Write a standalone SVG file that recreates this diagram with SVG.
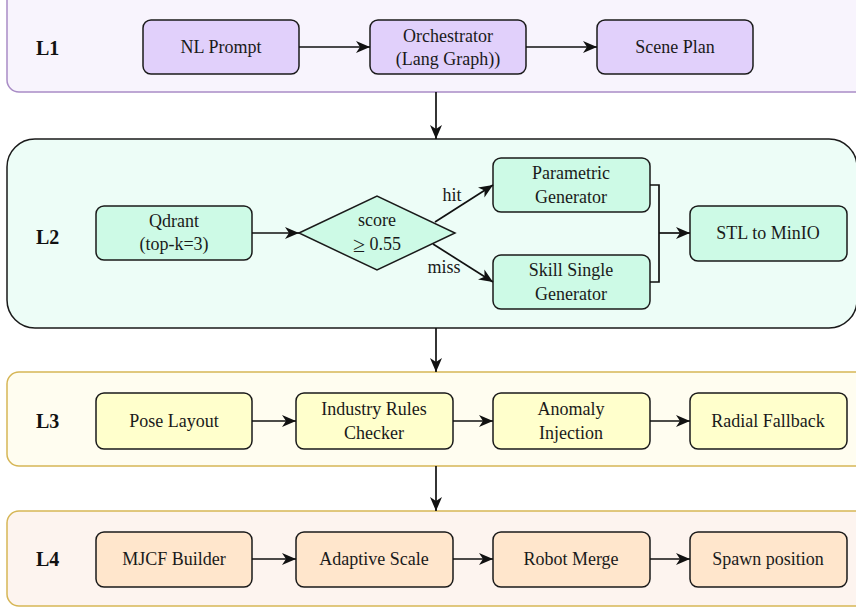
<svg xmlns="http://www.w3.org/2000/svg" width="856" height="608" viewBox="0 0 856 608">
  <defs>
    <marker id="arrow" markerUnits="userSpaceOnUse" markerWidth="16" markerHeight="14" refX="14" refY="7" orient="auto">
      <path d="M0,1 L14,7 L0,13 L4,7 z" fill="#111"/>
    </marker>
    <style>
      .lane-l1 { fill: #f8f4fd; stroke: #a98cc6; stroke-width: 1.5; }
      .lane-l2 { fill: #edfdf7; stroke: #1a1a1a; stroke-width: 1.5; }
      .lane-l3 { fill: #fffdf0; stroke: #d6b656; stroke-width: 1.5; }
      .lane-l4 { fill: #fdf4ef; stroke: #d6b656; stroke-width: 1.5; }
      .box { stroke: #1a1a1a; stroke-width: 1.5; }
      .p { fill: #e1d0fb; }
      .g { fill: #cdfae6; }
      .y { fill: #ffffcc; }
      .o { fill: #ffe6cc; }
      .lbl { font-family: "Liberation Serif", "Times New Roman", serif; font-size: 18px; fill: #1a1a1a; text-anchor: middle; dominant-baseline: central; }
      .lane-title { font-family: "Liberation Serif", "Times New Roman", serif; font-size: 20px; font-weight: bold; fill: #111; dominant-baseline: central; }
      .edge { fill: none; stroke: #111; stroke-width: 1.7; }
    </style>
  </defs>

  <!-- swimlanes -->
  <g id="lanes">
    <rect class="lane-l1" x="7" y="-12" width="870" height="104" rx="12"/>
    <rect class="lane-l2" x="7" y="139" width="850" height="189" rx="28"/>
    <rect class="lane-l3" x="7" y="372" width="870" height="94" rx="12"/>
    <rect class="lane-l4" x="7" y="511" width="870" height="95" rx="12"/>
    <text class="lane-title" x="36" y="48">L1</text>
    <text class="lane-title" x="36" y="237">L2</text>
    <text class="lane-title" x="36" y="421">L3</text>
    <text class="lane-title" x="36" y="559">L4</text>
  </g>

  <!-- L1 nodes -->
  <g id="nl-prompt">
    <rect class="box p" x="143" y="20" width="156" height="54" rx="8"/>
    <text class="lbl" x="221" y="47">NL Prompt</text>
  </g>
  <g id="orchestrator">
    <rect class="box p" x="370" y="20" width="156" height="54" rx="8"/>
    <text class="lbl" x="448" y="36">Orchestrator</text>
    <text class="lbl" x="448" y="59">(Lang Graph))</text>
  </g>
  <g id="scene-plan">
    <rect class="box p" x="597" y="20" width="156" height="54" rx="8"/>
    <text class="lbl" x="675" y="47">Scene Plan</text>
  </g>

  <!-- L2 nodes -->
  <g id="qdrant">
    <rect class="box g" x="96" y="206" width="156" height="54" rx="8"/>
    <text class="lbl" x="174" y="221">Qdrant</text>
    <text class="lbl" x="174" y="244">(top-k=3)</text>
  </g>
  <g id="score-check">
    <polygon class="box g" points="299,233 377,196 455,233 377,270"/>
    <text class="lbl" x="377" y="220">score</text>
    <text class="lbl" x="377" y="244"><tspan font-size="22">≥</tspan> 0.55</text>
  </g>
  <g id="parametric-generator">
    <rect class="box g" x="493" y="158" width="157" height="54" rx="8"/>
    <text class="lbl" x="571" y="173">Parametric</text>
    <text class="lbl" x="571" y="197">Generator</text>
  </g>
  <g id="skill-single-generator">
    <rect class="box g" x="493" y="255" width="157" height="54" rx="8"/>
    <text class="lbl" x="571" y="270">Skill Single</text>
    <text class="lbl" x="571" y="294">Generator</text>
  </g>
  <g id="stl-to-minio">
    <rect class="box g" x="690" y="206" width="157" height="55" rx="8"/>
    <text class="lbl" x="768" y="233">STL to MinIO</text>
  </g>

  <!-- L3 nodes -->
  <g id="pose-layout">
    <rect class="box y" x="96" y="393" width="156" height="56" rx="8"/>
    <text class="lbl" x="174" y="421">Pose Layout</text>
  </g>
  <g id="industry-rules-checker">
    <rect class="box y" x="296" y="393" width="157" height="56" rx="8"/>
    <text class="lbl" x="374" y="409">Industry Rules</text>
    <text class="lbl" x="374" y="433">Checker</text>
  </g>
  <g id="anomaly-injection">
    <rect class="box y" x="493" y="393" width="157" height="56" rx="8"/>
    <text class="lbl" x="571" y="409">Anomaly</text>
    <text class="lbl" x="571" y="433">Injection</text>
  </g>
  <g id="radial-fallback">
    <rect class="box y" x="690" y="393" width="157" height="56" rx="8"/>
    <text class="lbl" x="768" y="421">Radial Fallback</text>
  </g>

  <!-- L4 nodes -->
  <g id="mjcf-builder">
    <rect class="box o" x="96" y="532" width="156" height="55" rx="8"/>
    <text class="lbl" x="174" y="559">MJCF Builder</text>
  </g>
  <g id="adaptive-scale">
    <rect class="box o" x="296" y="532" width="157" height="55" rx="8"/>
    <text class="lbl" x="374" y="559">Adaptive Scale</text>
  </g>
  <g id="robot-merge">
    <rect class="box o" x="493" y="532" width="157" height="55" rx="8"/>
    <text class="lbl" x="571" y="559">Robot Merge</text>
  </g>
  <g id="spawn-position">
    <rect class="box o" x="690" y="532" width="157" height="55" rx="8"/>
    <text class="lbl" x="768" y="559">Spawn position</text>
  </g>

  <!-- connectors -->
  <g id="connectors">
    <line class="edge" x1="299" y1="47" x2="370" y2="47" marker-end="url(#arrow)"/>
    <line class="edge" x1="526" y1="47" x2="597" y2="47" marker-end="url(#arrow)"/>
    <line class="edge" x1="436" y1="92" x2="436" y2="139" marker-end="url(#arrow)"/>

    <line class="edge" x1="252" y1="233" x2="299" y2="233" marker-end="url(#arrow)"/>
    <line class="edge" x1="435" y1="222" x2="493" y2="185" marker-end="url(#arrow)"/>
    <line class="edge" x1="433" y1="244" x2="493" y2="282" marker-end="url(#arrow)"/>
    <text class="lbl" x="452" y="195">hit</text>
    <text class="lbl" x="444" y="267">miss</text>
    <polyline class="edge" points="650,185 659,185 659,282 650,282"/>
    <line class="edge" x1="659" y1="233" x2="690" y2="233" marker-end="url(#arrow)"/>
    <line class="edge" x1="436" y1="328" x2="436" y2="372" marker-end="url(#arrow)"/>

    <line class="edge" x1="252" y1="421" x2="296" y2="421" marker-end="url(#arrow)"/>
    <line class="edge" x1="453" y1="421" x2="493" y2="421" marker-end="url(#arrow)"/>
    <line class="edge" x1="650" y1="421" x2="690" y2="421" marker-end="url(#arrow)"/>
    <line class="edge" x1="436" y1="466" x2="436" y2="511" marker-end="url(#arrow)"/>

    <line class="edge" x1="252" y1="559" x2="296" y2="559" marker-end="url(#arrow)"/>
    <line class="edge" x1="453" y1="559" x2="493" y2="559" marker-end="url(#arrow)"/>
    <line class="edge" x1="650" y1="559" x2="690" y2="559" marker-end="url(#arrow)"/>
  </g>
</svg>
